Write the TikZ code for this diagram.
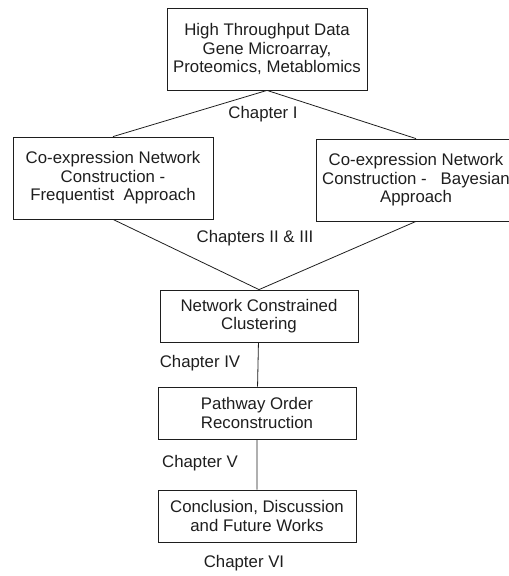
\documentclass[tikz,border=0pt]{standalone}
\usepackage{fontspec}
\setmainfont{Liberation Sans}
\definecolor{ink}{RGB}{30,30,30}
\tikzset{box/.style={draw=ink,rectangle,text=ink,align=center,inner sep=0pt,minimum width=200pt,minimum height=82pt,font=\fontsize{16.8}{18.5}\selectfont},
 sbox/.style={box,minimum width=198pt,minimum height=52pt},
 chap/.style={text=ink,inner sep=0pt,font=\fontsize{16.8}{18.5}\selectfont}}

\begin{document}
\begin{tikzpicture}[x=1pt,y=-1pt,line width=0.8pt]
\useasboundingbox (0,0) rectangle (509,576);
\clip (0,0) rectangle (509,576);
\node[box](hd) at(267,49){High Throughput Data\\Gene Microarray,\\Proteomics, Metablomics};
\node[box](fq) at(113,178){Co-expression Network\\Construction -\\Frequentist\ \ Approach};
\node[box](by) at(416,180){Co-expression Network\\Construction -\ \ \ Bayesian\\Approach};
\node[chap](c1) at(263,114){Chapter I};
\draw[ink](hd.south)--(fq.north)(hd.south)--(by.north);
\node[sbox](nc) at(259,316){Network Constrained\\Clustering};
\node[chap](c23) at(255,238){Chapters II \& III};
\draw[ink](fq.south)--(nc.north)(by.south)--(nc.north);
\node[sbox](po) at(257,413){Pathway Order\\Reconstruction};
\node[chap](c4) at(200,363){Chapter IV};
\node[sbox](cd) at(257,516){Conclusion, Discussion\\and Future Works};
\node[chap](c5) at(200,463){Chapter V};
\node[chap](c6) at(244,563){Chapter VI};
\draw[ink](nc)--(po)(po)--(cd);
\end{tikzpicture}
\end{document}
